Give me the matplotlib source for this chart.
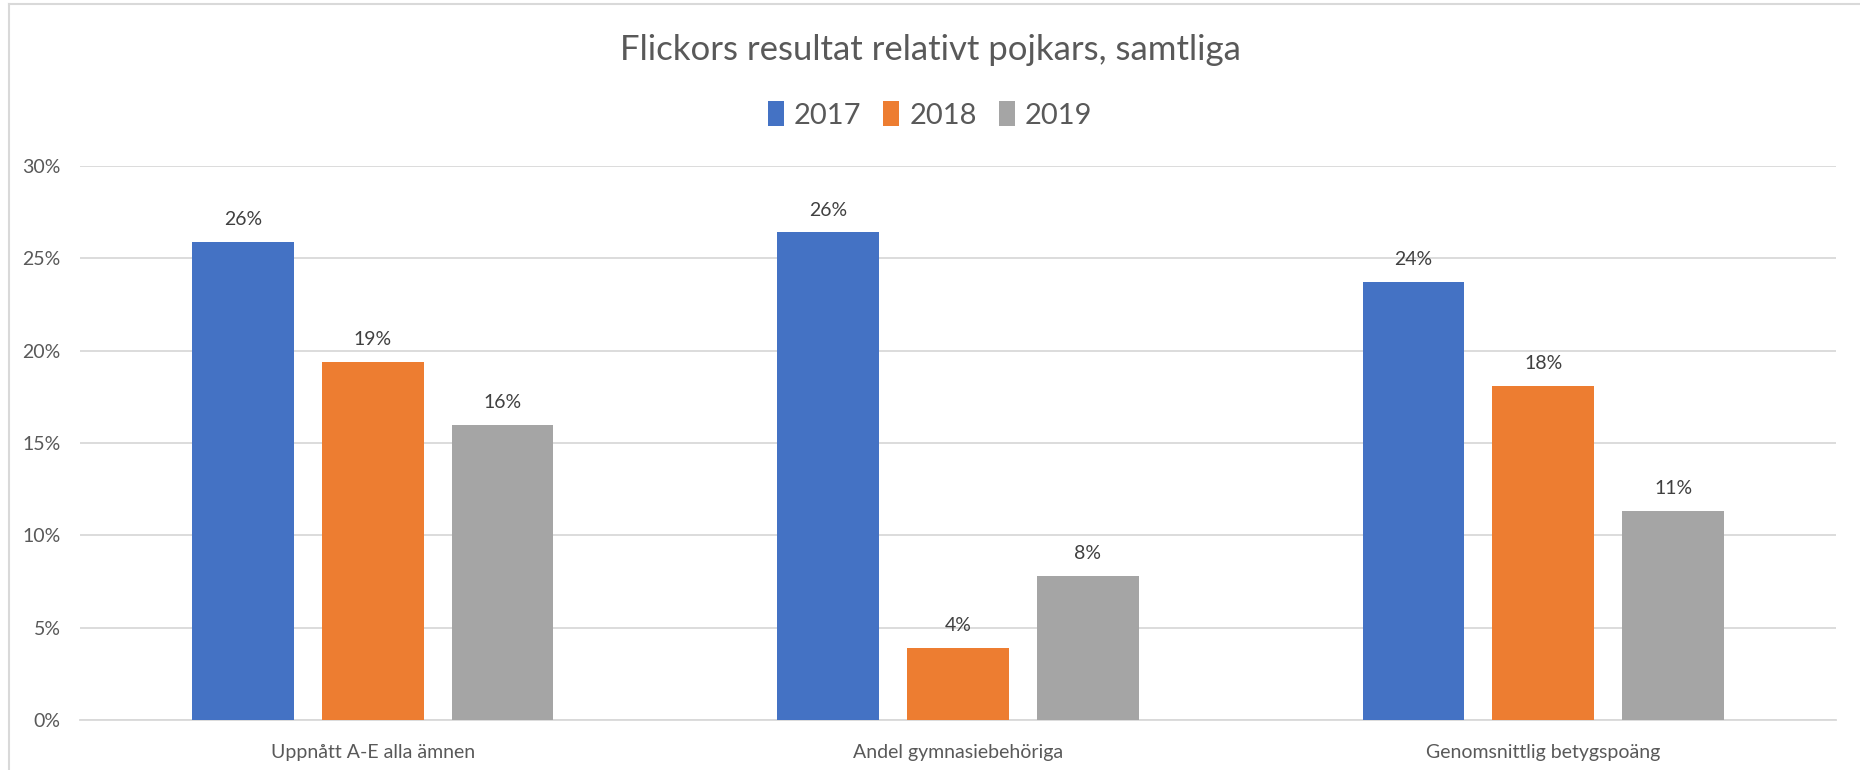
import matplotlib.pyplot as plt
import numpy as np
from matplotlib.lines import Line2D
from matplotlib.patches import Patch

plt.rcParams['font.family'] = ['Lato', 'DejaVu Sans']

categories = ["Uppnått A-E alla ämnen", "Andel gymnasiebehöriga", "Genomsnittlig betygspoäng"]
years = ["2017", "2018", "2019"]
v2017 = [25.9, 26.4, 23.7]
v2018 = [19.4, 3.9, 18.1]
v2019 = [16.0, 7.8, 11.3]
colors = ["#4472C4", "#ED7D31", "#A5A5A5"]

text_col = "#595959"
label_col = "#404040"

fig = plt.figure(figsize=(18.6, 7.7), dpi=100)
ax = fig.add_axes([80 / 1860, 1 - 720 / 770, 1756 / 1860, 554 / 770])

x = np.arange(len(categories))
width = 0.1737
pitch = 0.2216
for i, (vals, c) in enumerate(zip([v2017, v2018, v2019], colors)):
    pos = x + (i - 1) * pitch
    bars = ax.bar(pos, vals, width=width, color=c, zorder=3)
    for b, v in zip(bars, vals):
        ax.annotate(f"{v:.0f}%", (b.get_x() + b.get_width() / 2, v),
                    xytext=(0, 10), textcoords="offset points",
                    ha="center", va="bottom", fontsize=14, color=label_col)

ax.set_xlim(-0.5, 2.5)
ax.set_ylim(0, 30)
ax.set_yticks(range(0, 31, 5))
ax.set_yticklabels([f"{t}%" for t in range(0, 31, 5)])
ax.set_xticks(x)
ax.set_xticklabels(categories)
ax.yaxis.grid(True, color="#D9D9D9", linewidth=1.3, zorder=0)
ax.set_axisbelow(True)
for s in ["top", "right", "left"]:
    ax.spines[s].set_visible(False)
ax.spines["bottom"].set_color("#D9D9D9")
ax.spines["bottom"].set_linewidth(1.3)
ax.tick_params(axis="both", length=0, labelsize=14, labelcolor=text_col)
ax.tick_params(axis="y", pad=14)
ax.tick_params(axis="x", pad=17)

fig.text(0.5, 1 - 50 / 770, "Flickors resultat relativt pojkars, samtliga",
         ha="center", va="center", fontsize=25, color=text_col)

handles = [Patch(facecolor=c, edgecolor="none") for c in colors]
fig.legend(handles, years, loc="center", bbox_to_anchor=(0.5, 1 - 115 / 770),
           ncol=3, frameon=False, fontsize=21, labelcolor=text_col,
           handlelength=0.55, handleheight=0.9, handletextpad=0.35, columnspacing=0.75)

# light border of the chart area (top and left edges)
fig.add_artist(Line2D([9 / 1860, 1], [1 - 4 / 770, 1 - 4 / 770], color="#D9D9D9", linewidth=1.5))
fig.add_artist(Line2D([9 / 1860, 9 / 1860], [0, 1 - 4 / 770], color="#D9D9D9", linewidth=1.5))

plt.savefig("out.png", dpi=100)
